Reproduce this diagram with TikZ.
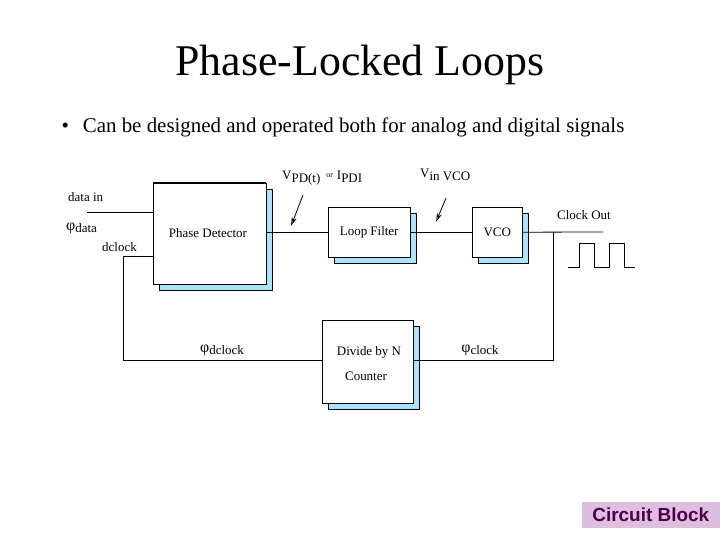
\documentclass[tikz,border=0pt]{standalone}
\usepackage{fontspec}
\setmainfont{Liberation Serif}
\newfontfamily\sansf{Liberation Sans}
\usetikzlibrary{arrows.meta}
\begin{document}
\begin{tikzpicture}[x=1bp,y=-1bp,
  blk/.style={draw,fill=white,inner sep=0pt,anchor=north west},
  shad/.style={fill=blue!30!cyan!35,draw=black},
  lbl/.style={font=\fontsize{13}{15}\selectfont,inner sep=0pt},
  wire/.style={line width=0.8pt}]
\useasboundingbox (0,0) rectangle (720,540);
\node[font=\fontsize{44}{48}\selectfont] (title) at (360,65) {Phase-Locked Loops};
\node[font=\fontsize{21}{24}\selectfont,anchor=west] (bul) at (58,127) {\textbullet\hspace{14bp}Can be designed and operated both for analog and digital signals};
% shadows
\fill[shad] (159,189) rectangle (272,290);
\fill[shad] (334,213) rectangle (416,263);
\fill[shad] (478,213) rectangle (528,263);
\fill[shad] (328,326) rectangle (419,409);
% boxes
\node[blk,minimum width=113bp,minimum height=101bp] (pd) at (153,183) {};
\draw[line width=1.4pt] (pd.north west) -- (pd.north east);
\node[lbl] at (208,233) {Phase Detector};
\node[blk,minimum width=82bp,minimum height=50bp] (lf) at (328,207) {};
\node[lbl] at (lf.center) {Loop Filter};
\node[blk,minimum width=50bp,minimum height=50bp] (vco) at (472,207) {};
\node[lbl] at (vco.center) {VCO};
\node[blk,minimum width=91bp,minimum height=83bp] (div) at (322,320) {};
\node[lbl] at (369,352) {Divide by N};
\node[lbl] at (366,376) {Counter};
% coordinates
\coordinate (din) at (87,212);
\coordinate (pdin) at (153,212);
\coordinate (fbin) at (153,256);
\coordinate (fbc) at (123,256);
\coordinate (fbl) at (123,360);
\coordinate (tap) at (553,232);
\coordinate (fbr) at (553,360);
\coordinate (cout) at (603,232);
% wires
\draw[wire] (din) -- (pdin);
\draw[wire] (fbin) -- (fbc) -- (fbl) -- (div.west |- fbl);
\draw[wire] (div.east |- fbr) -- (fbr) -- (tap);
\draw[wire] (pd.east |- lf.west) -- (lf.west);
\draw[wire] (lf.east) -- (vco.west);
\draw[wire] (vco.east) -- (cout);
% square wave
\draw[wire] (568,267) -- (579,267) -- (579,243) -- (594,243) -- (594,267) -- (609,267) -- (609,243) -- (624,243) -- (624,267) -- (635,267);
% labels
\node[lbl,anchor=west] (ldin) at (68,197) {data in};
\node[lbl,anchor=west] (lphd) at (66,228) {{\fontsize{16}{16}\selectfont φ}\raisebox{-2bp}{data}};
\node[lbl,anchor=west] (ldcl) at (102,247) {dclock};
\node[lbl] (lpdc) at (222,350) {{\fontsize{16}{16}\selectfont φ}\raisebox{-2bp}{dclock}};
\node[lbl] (lpc) at (480,350) {{\fontsize{16}{16}\selectfont φ}\raisebox{-2bp}{clock}};
\node[lbl,anchor=west] (lco) at (557,215) {Clock Out};
\node[lbl,anchor=west] (lvpd) at (282,178) {V\raisebox{-3bp}{PD(t)}\hspace{6bp}\raisebox{2bp}{\fontsize{8}{9}\selectfont or}\hspace{4bp}I\raisebox{-3bp}{PDI}};
\node[lbl,anchor=west] (lvin) at (420,175) {V\raisebox{-3bp}{in VCO}};
\coordinate (a1) at (303,195);
\coordinate (a2) at (446,198);
\draw[wire,-{Stealth[open,length=9bp,width=5bp]}] (a1) -- (291,226);
\draw[wire,-{Stealth[open,length=9bp,width=5bp]}] (a2) -- (436,222);
% circuit block
\node[fill=violet!25,text=violet!60!black,font=\sansf\bfseries\fontsize{19}{21}\selectfont,anchor=north east,inner sep=2bp,minimum width=138bp,minimum height=26bp] (cb) at (720,502) {Circuit Block};
\end{tikzpicture}
\end{document}
